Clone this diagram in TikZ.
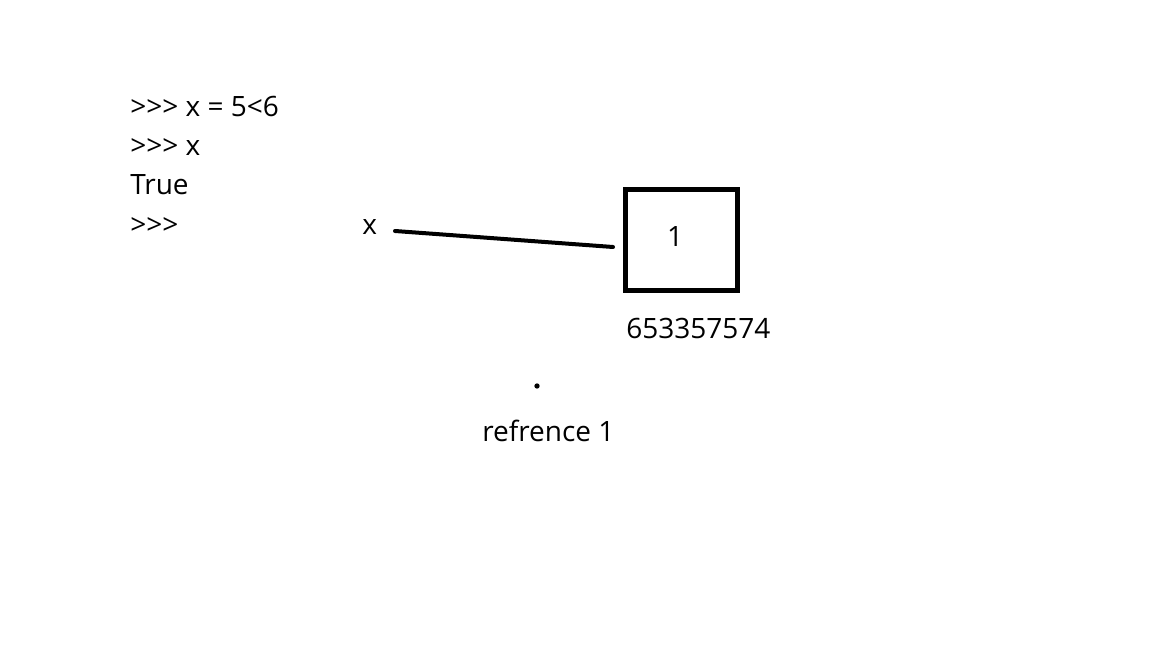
\documentclass[tikz,border=0pt]{standalone}
\usepackage{fontspec}
\setmainfont{Open Sans}
\begin{document}
\begin{tikzpicture}[x=0.75pt,y=-0.75pt,
  txt/.style={inner sep=0pt,font=\fontsize{21pt}{25pt}\selectfont},
  objbox/.style={draw,line width=3.3pt,minimum width=84pt,minimum height=75.75pt,inner sep=0pt},
  link/.style={line width=3pt,line cap=round}]
\useasboundingbox (0,0) rectangle (1152,648);
\node[txt,anchor=base west] (l1) at (130,117) {>{}>{}> x = 5<6};
\node[txt,anchor=base west] (l2) at (130,156) {>{}>{}> x};
\node[txt,anchor=base west] (l3) at (130,195) {True};
\node[txt,anchor=base west] (l4) at (130,235) {>{}>{}>};
\node[txt,anchor=base west] (xl) at (362,235) {x};
\node[objbox] (box) at (681.5,240) {};
\node[txt] (one) at (675,237) {1};
\node[txt,anchor=base west] (addr) at (626,339) {653357574};
\coordinate (ls) at (395,231);
\coordinate (le) at (613,247);
\draw[link] (ls) -- (le);
\fill (537,386) circle (2pt);
\node[txt,anchor=base west] (ref) at (482,441) {refrence 1};
\end{tikzpicture}
\end{document}
